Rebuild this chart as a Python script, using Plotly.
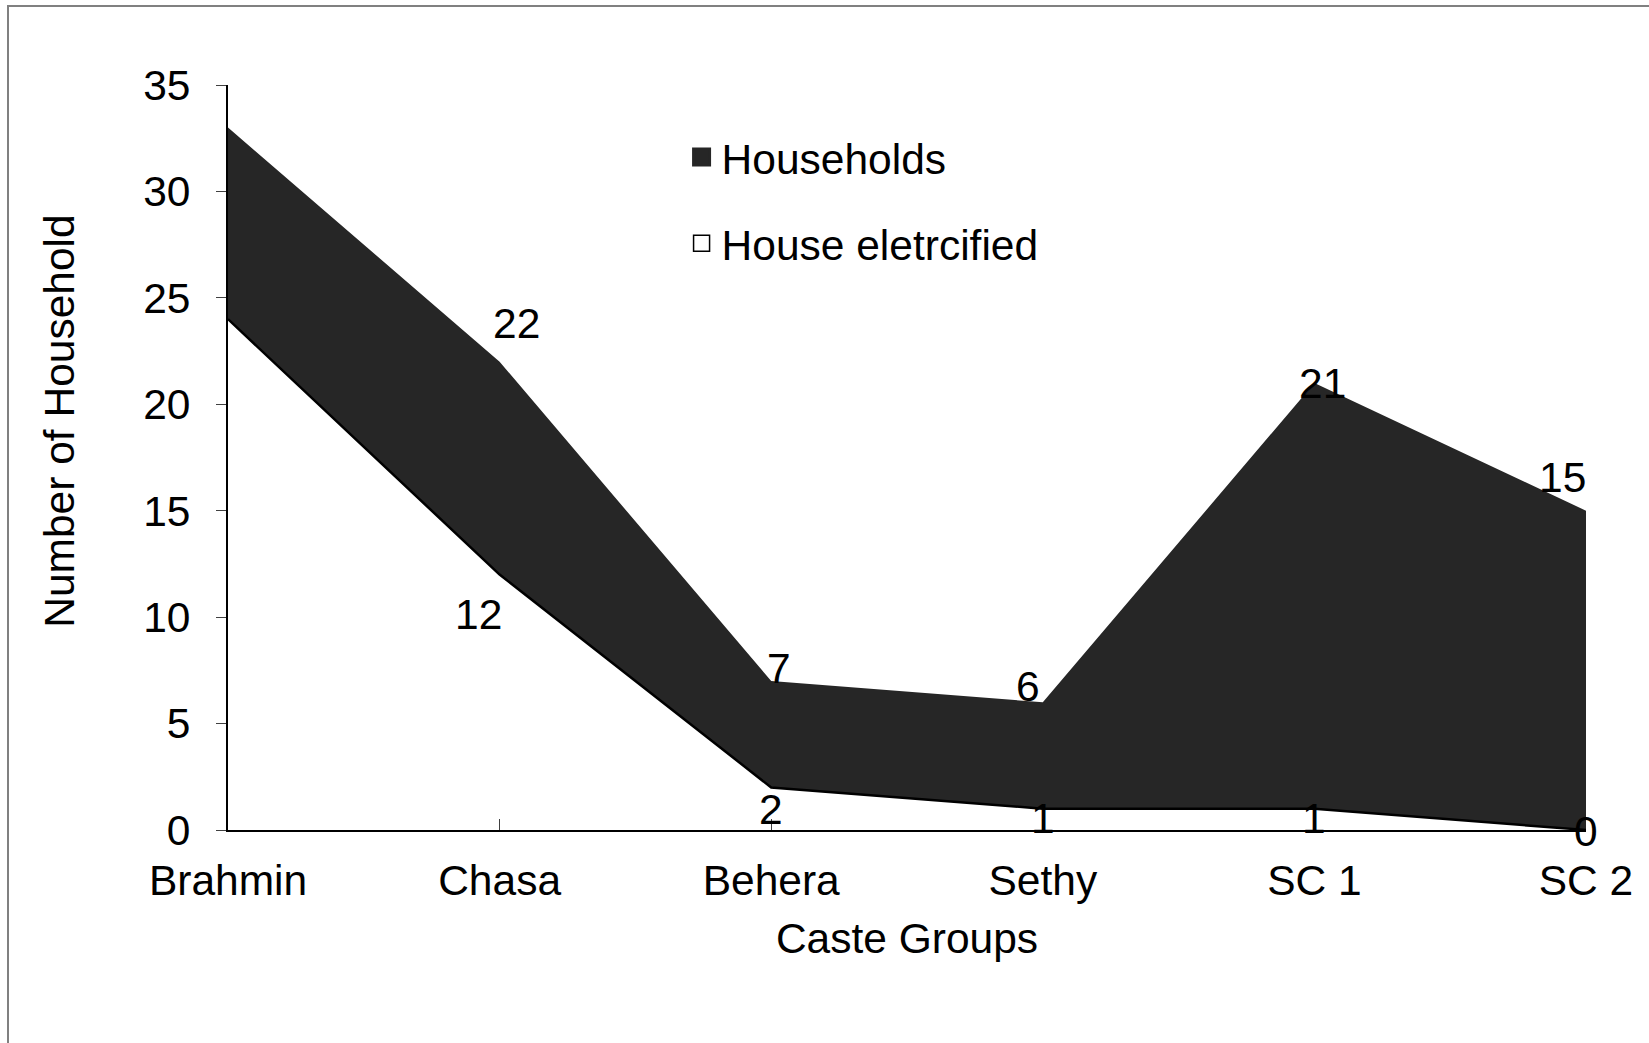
import plotly.graph_objects as go

# Caste groups surveyed and household counts
castes = ["Brahmin", "Chasa", "Behera", "Sethy", "SC 1", "SC 2"]
households = [33, 22, 7, 6, 21, 15]
electrified = [24, 12, 2, 1, 1, 0]

# Value labels: which points are labelled and their pixel nudges
hh_label_idx = [1, 2, 3, 4, 5]
hh_shift = [(17, 38), (8, 13), (-15, 16), (8, 0), (-24, 33)]
el_label_idx = [1, 2, 3, 4, 5]
el_shift = [(-21, -40), (0, -22), (0, -10), (0, -10), (0, -1)]

FONT = "Arial, Liberation Sans, sans-serif"
FS = 42.5
DARK = "#262626"

fig = go.Figure()

# Total households as a dark filled area
fig.add_trace(go.Scatter(
    x=castes, y=households, mode="none", fill="tozeroy",
    fillcolor=DARK, showlegend=False, hoverinfo="x+y", name="Households",
))
# Electrified houses drawn over it in white with a black outline
fig.add_trace(go.Scatter(
    x=castes, y=electrified, mode="lines", fill="tozeroy",
    fillcolor="white", line=dict(color="black", width=2.5),
    showlegend=False, hoverinfo="x+y", name="House eletrcified",
))

# Legend entries with square swatches
fig.add_trace(go.Scatter(
    x=[None], y=[None], mode="markers", name="Households",
    marker=dict(symbol="square", size=20, color=DARK,
                line=dict(color=DARK, width=3)),
    legendgroup="a",
))
fig.add_trace(go.Scatter(
    x=[None], y=[None], mode="markers", name="House eletrcified",
    marker=dict(symbol="square", size=20, color="white",
                line=dict(color="black", width=1.5)),
    legendgroup="b",
))

annotations = []
for i, (dx, dy) in zip(hh_label_idx, hh_shift):
    annotations.append(dict(
        x=castes[i], y=households[i], text=str(households[i]),
        showarrow=False, xshift=dx, yshift=dy,
        font=dict(family=FONT, size=FS, color="black"),
    ))
for i, (dx, dy) in zip(el_label_idx, el_shift):
    annotations.append(dict(
        x=castes[i], y=electrified[i], text=str(electrified[i]),
        showarrow=False, xshift=dx, yshift=dy,
        font=dict(family=FONT, size=FS, color="black"),
    ))

# Y-axis title
annotations.append(dict(
    text="Number of Household", textangle=-90, showarrow=False,
    xref="paper", yref="paper", x=-0.1237, y=0.548,
    xanchor="center", yanchor="middle",
    font=dict(family=FONT, size=FS, color="black"),
))

fig.update_layout(
    width=1649, height=1043,
    margin=dict(l=228, r=63, t=85, b=213),
    paper_bgcolor="white", plot_bgcolor="white",
    font=dict(family=FONT, size=FS, color="black"),
    showlegend=True,
    legend=dict(
        x=0.334, y=0.949, xanchor="left", yanchor="top",
        bgcolor="rgba(0,0,0,0)", tracegroupgap=28,
        font=dict(family=FONT, size=FS, color="black"),
        itemwidth=30,
    ),
    annotations=annotations,
    shapes=[dict(
        type="rect", xref="paper", yref="paper",
        x0=-0.162, y0=-0.31, x1=1.06, y1=1.106,
        line=dict(color="#808080", width=2), fillcolor="rgba(0,0,0,0)",
        layer="below",
    )],
)

fig.update_xaxes(
    type="category", categoryorder="array", categoryarray=castes,
    range=[0, 5], showgrid=False, zeroline=False,
    showline=True, linecolor="black", linewidth=2,
    ticks="inside", ticklen=11, tickcolor="#404040", tickwidth=1,
    ticklabelstandoff=12,
    title=dict(text="Caste Groups", standoff=20,
               font=dict(family=FONT, size=FS, color="black")),
)
fig.update_yaxes(
    range=[0, 35], tickvals=[0, 5, 10, 15, 20, 25, 30, 35],
    showgrid=False, zeroline=False,
    showline=True, linecolor="black", linewidth=2,
    ticks="outside", ticklen=10, tickcolor="#404040", tickwidth=1,
    ticklabelstandoff=17,
)

fig.write_html("out.html")
